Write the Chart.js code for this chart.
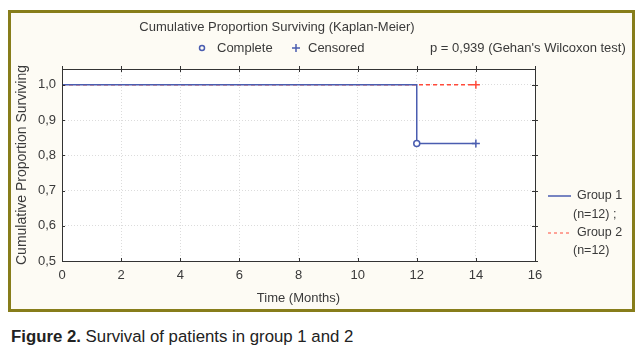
<!DOCTYPE html>
<html>
<head>
<meta charset="utf-8">
<script src="https://cdn.jsdelivr.net/npm/chart.js@4.4.1/dist/chart.umd.min.js"></script>
<style>
  html, body { margin: 0; padding: 0; background: #ffffff; }
  #wrap { position: relative; width: 643px; height: 355px; }
  #c { position: absolute; left: 0; top: 0; }
  #caption { position: absolute; left: 11px; top: 327px; font-family: "Liberation Sans", Arial, sans-serif; font-size: 16.8px; line-height: 20px; color: #222; white-space: nowrap; }
</style>
</head>
<body>
<div id="wrap">
  <canvas id="c" width="643" height="318"></canvas>
  <div id="caption"><b>Figure 2.</b> Survival of patients in group 1 and 2</div>
</div>
<script>
// ---- data ----
const group1Times = [0, 12, 14];
const group1Surv = [1.0, 0.8333, 0.8333];
const group1Markers = ['none', 'complete', 'censored'];
const group2Times = [0, 14];
const group2Surv = [1.0, 1.0];
const group2Markers = ['none', 'censored'];
const xTicks = [0, 2, 4, 6, 8, 10, 12, 14, 16];
const yTicks = [0.5, 0.6, 0.7, 0.8, 0.9, 1.0];
const chartTitle = 'Cumulative Proportion Surviving (Kaplan-Meier)';
const legendComplete = 'Complete';
const legendCensored = 'Censored';
const testText = "p = 0,939 (Gehan's Wilcoxon test)";
const groupLabels = [['Group 1', '(n=12) ;'], ['Group 2', '(n=12)']];
const xTitle = 'Time (Months)';
const yTitle = 'Cumulative Proportion Surviving';

const BLUE = '#4a5db0';
const RED = '#ff4a3a';
const FONT = '"Liberation Sans", Arial, sans-serif';
const TXT = '#3a3a3a';

function pts(t, s) { return t.map((x, i) => ({ x: x, y: s[i] })); }
function styleOf(m) { return m === 'complete' ? 'circle' : (m === 'censored' ? 'cross' : 'circle'); }
function radiusOf(m) { return m === 'none' ? 0 : (m === 'complete' ? 3 : 4); }

const decorPlugin = {
  id: 'decor',
  beforeDraw(chart) {
    const ctx = chart.ctx;
    const a = chart.chartArea;
    ctx.save();
    ctx.fillStyle = '#fdfbf4';
    ctx.fillRect(8, 10, 627, 302);
    ctx.strokeStyle = '#877d1a';
    ctx.lineWidth = 3;
    ctx.strokeRect(9.5, 11.5, 624, 299);
    ctx.fillStyle = '#ffffff';
    ctx.fillRect(a.left, a.top, a.right - a.left, a.bottom - a.top);
    ctx.restore();
  },
  afterDraw(chart) {
    const ctx = chart.ctx;
    const a = chart.chartArea;
    ctx.save();
    // frame
    ctx.strokeStyle = '#333';
    ctx.lineWidth = 1;
    ctx.strokeRect(a.left + 0.5, a.top + 0.5, a.right - a.left, a.bottom - a.top);
    // mirrored ticks on top and right
    const xs = chart.scales.x, ys = chart.scales.y;
    ctx.beginPath();
    xTicks.forEach(v => { const px = Math.round(xs.getPixelForValue(v)) + 0.5; ctx.moveTo(px, a.top - 3); ctx.lineTo(px, a.top + 3); ctx.moveTo(px, a.bottom - 3); ctx.lineTo(px, a.bottom); });
    yTicks.forEach(v => { const py = Math.round(ys.getPixelForValue(v)) + 0.5; ctx.moveTo(a.right - 3, py); ctx.lineTo(a.right + 3, py); ctx.moveTo(a.left, py); ctx.lineTo(a.left + 3, py); });
    ctx.stroke();
    // titles
    ctx.fillStyle = TXT;
    ctx.textBaseline = 'middle';
    ctx.font = '13px ' + FONT;
    ctx.textAlign = 'center';
    ctx.fillText(chartTitle, 277, 27);
    ctx.textAlign = 'left';
    ctx.fillText(legendComplete, 217, 48);
    ctx.fillText(legendCensored, 308, 48);
    ctx.fillText(testText, 430, 48);
    // legend markers
    ctx.strokeStyle = BLUE;
    ctx.lineWidth = 1.5;
    ctx.beginPath(); ctx.arc(202, 48, 2.5, 0, Math.PI * 2); ctx.stroke();
    ctx.beginPath(); ctx.moveTo(292, 48); ctx.lineTo(300, 48); ctx.moveTo(296, 44); ctx.lineTo(296, 52); ctx.stroke();
    // right legend
    ctx.lineWidth = 1.5;
    ctx.strokeStyle = BLUE;
    ctx.beginPath(); ctx.moveTo(548, 196); ctx.lineTo(571, 196); ctx.stroke();
    ctx.strokeStyle = RED;
    ctx.lineWidth = 1;
    ctx.setLineDash([3, 3]);
    ctx.beginPath(); ctx.moveTo(548, 233); ctx.lineTo(571, 233); ctx.stroke();
    ctx.setLineDash([]);
    ctx.fillStyle = TXT;
    ctx.font = '12.5px ' + FONT;
    ctx.fillText(groupLabels[0][0], 577, 196);
    ctx.fillText(groupLabels[0][1], 573, 215);
    ctx.fillText(groupLabels[1][0], 577, 233);
    ctx.fillText(groupLabels[1][1], 573, 251);
    ctx.restore();
  }
};

new Chart(document.getElementById('c'), {
  type: 'line',
  data: {
    datasets: [
      {
        label: 'Group 1',
        data: pts(group1Times, group1Surv),
        borderColor: BLUE,
        backgroundColor: BLUE,
        borderWidth: 1.5,
        stepped: 'before',
        pointStyle: group1Markers.map(styleOf),
        pointRadius: group1Markers.map(radiusOf),
        pointBorderWidth: 1.5,
        pointBackgroundColor: '#ffffff',
        pointBorderColor: BLUE,
        fill: false,
        order: 1
      },
      {
        label: 'Group 2',
        data: pts(group2Times, group2Surv),
        borderColor: RED,
        backgroundColor: RED,
        borderWidth: 1.5,
        borderDash: [4, 3],
        pointStyle: group2Markers.map(styleOf),
        pointRadius: group2Markers.map(radiusOf),
        pointBorderWidth: 1.5,
        pointBorderColor: RED,
        fill: false,
        order: 2
      }
    ]
  },
  options: {
    responsive: false,
    animation: false,
    layout: { padding: { left: 10, top: 69, right: 108, bottom: 0 } },
    plugins: { legend: { display: false }, tooltip: { enabled: false } },
    scales: {
      x: {
        type: 'linear',
        min: 0, max: 16,
        afterBuildTicks: s => { s.ticks = xTicks.map(v => ({ value: v })); },
        afterFit: s => { s.height = 318 - 261; },
        grid: { color: '#dcdcdc', drawTicks: false, lineWidth: 1 },
        border: { display: false, dash: [1, 2] },
        ticks: { padding: 7, color: TXT, font: { family: FONT, size: 13 }, callback: v => String(v), maxRotation: 0 },
        title: { display: true, text: xTitle, color: TXT, font: { family: FONT, size: 13 }, padding: { top: 0, bottom: 12 } }
      },
      y: {
        min: 0.5, max: 1.045,
        afterBuildTicks: s => { s.ticks = yTicks.map(v => ({ value: v })); },
        afterFit: s => { s.width = 52; },
        grid: { color: '#dcdcdc', drawTicks: false, lineWidth: 1 },
        border: { display: false, dash: [1, 2] },
        ticks: { padding: 6, color: TXT, font: { family: FONT, size: 13 }, callback: v => v.toFixed(1).replace('.', ',') },
        title: { display: true, text: yTitle, color: TXT, font: { family: FONT, size: 14 }, padding: { top: 4, bottom: 0 } }
      }
    }
  },
  plugins: [decorPlugin]
});
</script>
</body>
</html>
